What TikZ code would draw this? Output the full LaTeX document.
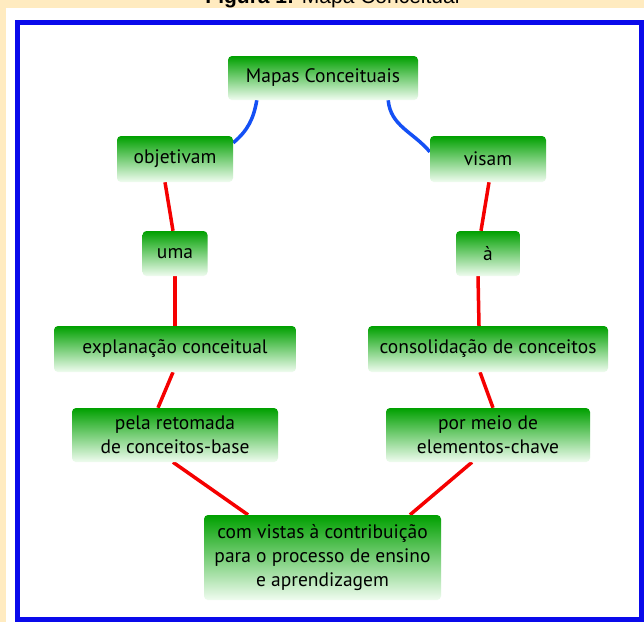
\documentclass[tikz,border=0pt]{standalone}
\usepackage{fontspec}
\setmainfont{PT Sans}
\newfontfamily\titlefont{Liberation Sans}
\usetikzlibrary{positioning, backgrounds}

\definecolor{verdeforte}{RGB}{0,160,0}
\definecolor{verdeclaro}{RGB}{240,252,240}
\definecolor{bege}{RGB}{255,235,192}
\definecolor{moldura}{RGB}{10,10,235}
\definecolor{azulliga}{RGB}{20,80,245}
\definecolor{vermelho}{RGB}{245,0,0}

\tikzset{
	conceito/.style={rounded corners=4pt, top color=verdeforte, bottom color=verdeclaro,
		text=black, align=center, inner sep=2pt, font=\fontsize{19.5}{24}\selectfont},
	liga azul/.style={draw=azulliga, line width=3.5pt},
	liga/.style={draw=vermelho, line width=3.5pt},
}

\begin{document}
\begin{tikzpicture}[x=1pt,y=-1pt,node distance=90pt,on grid]
	
	\useasboundingbox (0,0) rectangle (644,622);
	\clip (0,0) rectangle (644,622);
	
	\node (titulo) [anchor=base, font=\titlefont\fontsize{21}{24}\selectfont] at (332.5,3) {\textbf{Figura 1:} Mapa Conceitual};
	
	\node (mapas) [conceito, minimum width=190pt, minimum height=44pt] at (323,78) {Mapas Conceituais};
	
	\node (objetivam) [conceito, minimum width=116pt, minimum height=46pt, below left=81pt and 148pt of mapas] {objetivam};
	\node (uma) [conceito, minimum width=65pt, minimum height=45pt, below=94.5pt of objetivam] {uma};
	\node (explanacao) [conceito, minimum width=242pt, minimum height=46pt, below=95.5pt of uma] {explanação conceitual};
	\node (retomada) [conceito, minimum width=206pt, minimum height=54pt, below=86pt of explanacao] {pela retomada\\de conceitos-base};
	
	\node (visam) [conceito, minimum width=116pt, minimum height=46pt, below right=81pt and 165pt of mapas] {visam};
	\node (a) [conceito, minimum width=64pt, minimum height=45pt, below=94.5pt of visam] {à};
	\node (consolidacao) [conceito, minimum width=240pt, minimum height=46pt, below=95.5pt of a] {consolidação de conceitos};
	\node (meio) [conceito, minimum width=204pt, minimum height=54pt, below=86pt of consolidacao] {por meio de\\elementos-chave};
	
	\node (vistas) [conceito, minimum width=237pt, minimum height=85pt] at (322.5,557.5) {com vistas à contribuição\\para o processo de ensino\\e aprendizagem};
	
	\begin{scope}[on background layer]
		\fill[bege] (0,0) rectangle (644,622);
		\fill[white] (6,8) rectangle (644,622);
		\draw[moldura, line width=5pt] (17.5,22.5) rectangle (641.5,619.5);
		
		\draw[liga azul] ([xshift=29pt]mapas.south west) to[out=-100,in=40] ([yshift=-7pt]objetivam.north east);
		\draw[liga azul] ([xshift=-30pt]mapas.south east) to[out=-85,in=130] ([yshift=-16pt]visam.north west);
		
		\draw[liga] ([xshift=-10pt]objetivam.south) -- ([xshift=-2pt]uma.north);
		\draw[liga] (uma.south) -- (explanacao.north);
		\draw[liga] ([xshift=-2pt]explanacao.south) -- ([xshift=-17pt]retomada.north);
		\draw[liga] ([xshift=-2pt]retomada.south) -- ([xshift=-74.5pt]vistas.north);
		
		\draw[liga] ([xshift=1pt]visam.south) -- ([xshift=-7pt]a.north);
		\draw[liga] ([xshift=-10pt]a.south) -- ([xshift=-9pt]consolidacao.north);
		\draw[liga] ([xshift=-8pt]consolidacao.south) -- ([xshift=5pt]meio.north);
		\draw[liga] ([xshift=-16pt]meio.south) -- ([xshift=87.5pt]vistas.north);
	\end{scope}
	
\end{tikzpicture}
\end{document}
